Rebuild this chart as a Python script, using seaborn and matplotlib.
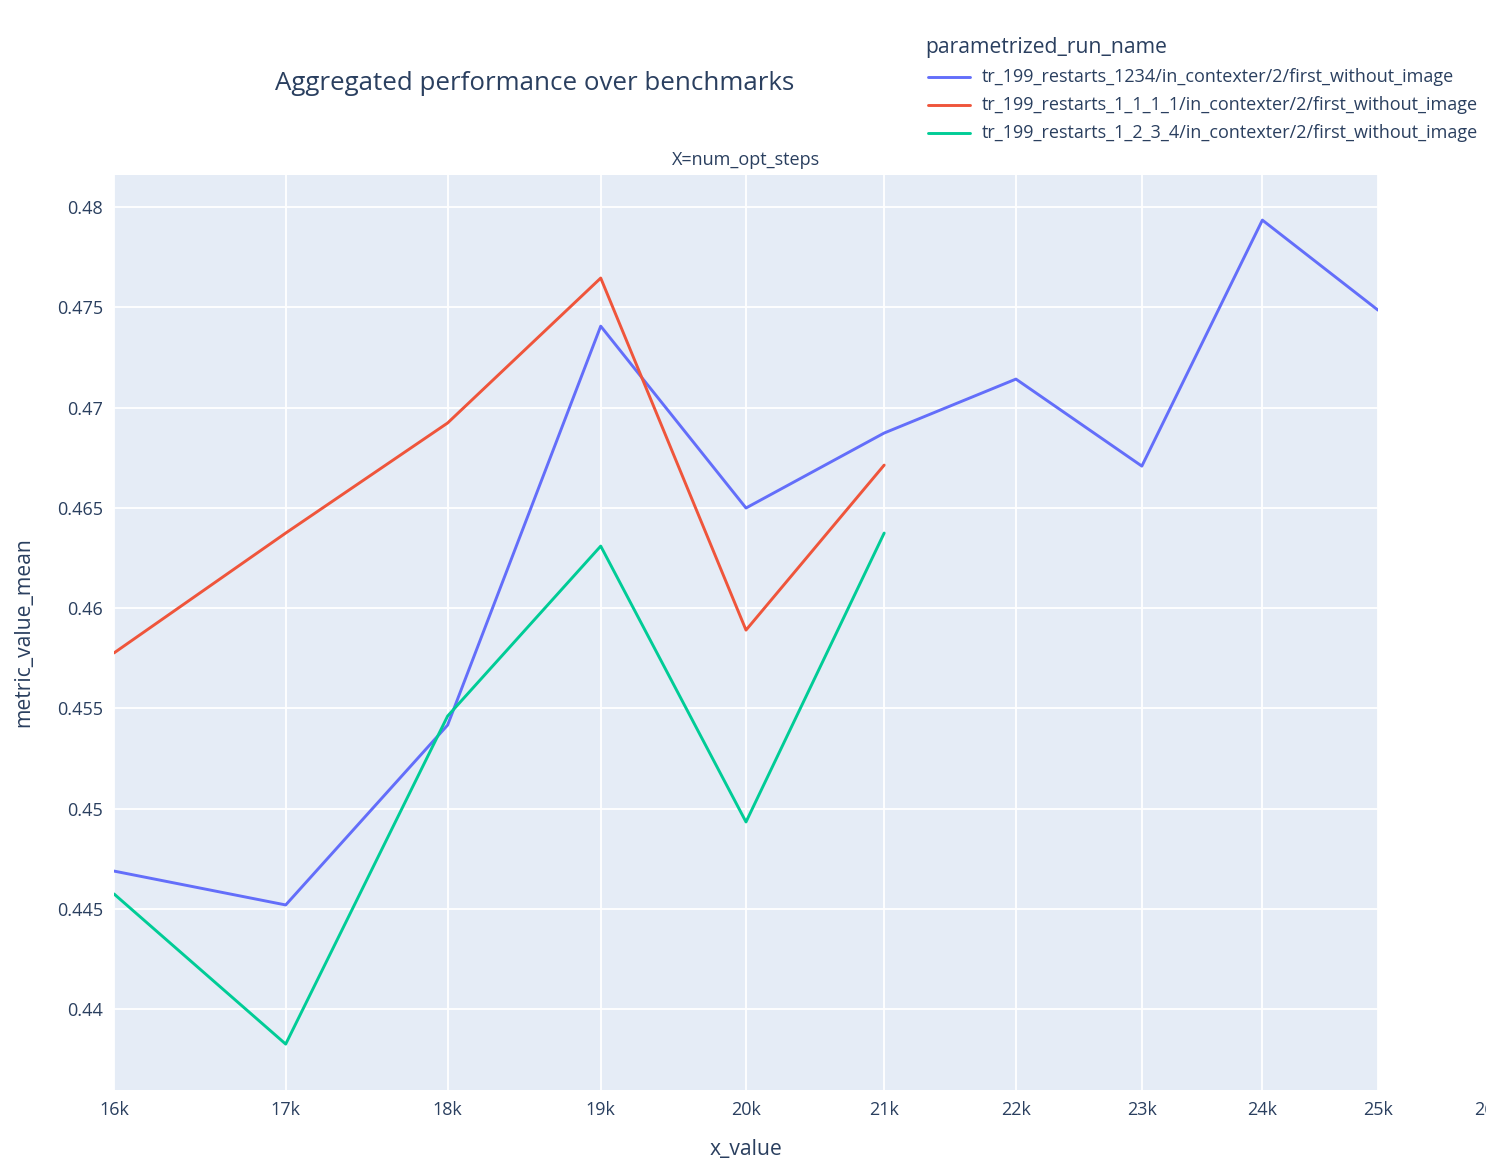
import numpy as np
import pandas as pd
import matplotlib
matplotlib.use("Agg")
import matplotlib.pyplot as plt
import matplotlib.ticker as mticker
import seaborn as sns

series_names = [
    "tr_199_restarts_1234/in_contexter/2/first_without_image",
    "tr_199_restarts_1_1_1_1/in_contexter/2/first_without_image",
    "tr_199_restarts_1_2_3_4/in_contexter/2/first_without_image",
]
x_blue = [16000, 17000, 18000, 19000, 20000, 21000, 22000, 23000, 24000, 25000]
y_blue = [0.44688, 0.44519, 0.45416, 0.47406, 0.46499, 0.46873, 0.47142, 0.46708, 0.47935, 0.47486]
x_red = [16000, 17000, 18000, 19000, 20000, 21000]
y_red = [0.45776, 0.46374, 0.46923, 0.47646, 0.45890, 0.46713]
x_green = [16000, 17000, 18000, 19000, 20000, 21000]
y_green = [0.44574, 0.43825, 0.45461, 0.46309, 0.44933, 0.46374]

xtick_vals = [16000, 17000, 18000, 19000, 20000, 21000, 22000, 23000, 24000, 25000]
xtick_labels = ["16k", "17k", "18k", "19k", "20k", "21k", "22k", "23k", "24k", "25k"]
ytick_vals = [0.44, 0.445, 0.45, 0.455, 0.46, 0.465, 0.47, 0.475, 0.48]
ytick_labels = ["0.44", "0.445", "0.45", "0.455", "0.46", "0.465", "0.47", "0.475", "0.48"]

colors = ["#636EFA", "#EF553B", "#00CC96"]

df = pd.concat([
    pd.DataFrame({"x_value": x_blue, "metric_value_mean": y_blue, "parametrized_run_name": series_names[0]}),
    pd.DataFrame({"x_value": x_red, "metric_value_mean": y_red, "parametrized_run_name": series_names[1]}),
    pd.DataFrame({"x_value": x_green, "metric_value_mean": y_green, "parametrized_run_name": series_names[2]}),
], ignore_index=True)

sns.set_theme(style="darkgrid")
plt.rcParams["font.family"] = ["Open Sans", "DejaVu Sans"]
txt = "#2a3f5f"

fig = plt.figure(figsize=(14.86, 11.70), dpi=100)
ax = fig.add_axes([114/1486, 80/1170, (1378-114)/1486, (1090-175)/1170])
ax.set_facecolor("#E5ECF6")

sns.lineplot(data=df, x="x_value", y="metric_value_mean", hue="parametrized_run_name",
             palette=colors, linewidth=2.1, ax=ax, legend=False, sort=False)

ax.set_xscale("log")
ax.set_xlim(16000, 25000)
ax.set_ylim(0.43596, 0.4816)
ax.xaxis.set_major_locator(mticker.FixedLocator(xtick_vals))
ax.xaxis.set_major_formatter(mticker.FixedFormatter(xtick_labels))
ax.xaxis.set_minor_locator(mticker.NullLocator())
ax.set_yticks(ytick_vals)
ax.set_yticklabels(ytick_labels)
ax.grid(True, color="white", linewidth=1.3)
for s in ax.spines.values():
    s.set_visible(False)
ax.tick_params(axis="both", length=0, labelsize=13, colors=txt, pad=8)
ax.text(26000, -0.012, "26k", transform=ax.get_xaxis_transform(), ha="center", va="top",
        fontsize=13, color=txt, clip_on=False)

ax.set_xlabel("x_value", fontsize=15.2, color=txt, labelpad=14)
ax.set_ylabel("metric_value_mean", fontsize=15.2, color=txt, labelpad=16)

fig.text(535/1486, 1 - 84/1170, "Aggregated performance over benchmarks", ha="center", va="center",
         fontsize=18.6, color=txt)
fig.text(746/1486, 1 - 160/1170, "X=num_opt_steps", ha="center", va="center", fontsize=13, color=txt)

# legend
fig.text(925/1486, 1 - 47/1170, "parametrized_run_name", ha="left", va="center", fontsize=15.2, color=txt)
for i, (name, c) in enumerate(zip(series_names, colors)):
    yy = 1 - (77 + 28 * i) / 1170
    fig.add_artist(plt.Line2D([928/1486, 970/1486], [yy, yy], color=c, linewidth=2.1,
                              transform=fig.transFigure))
    fig.text(982/1486, yy, name, ha="left", va="center", fontsize=13, color=txt)

fig.savefig("out.png", dpi=100)
